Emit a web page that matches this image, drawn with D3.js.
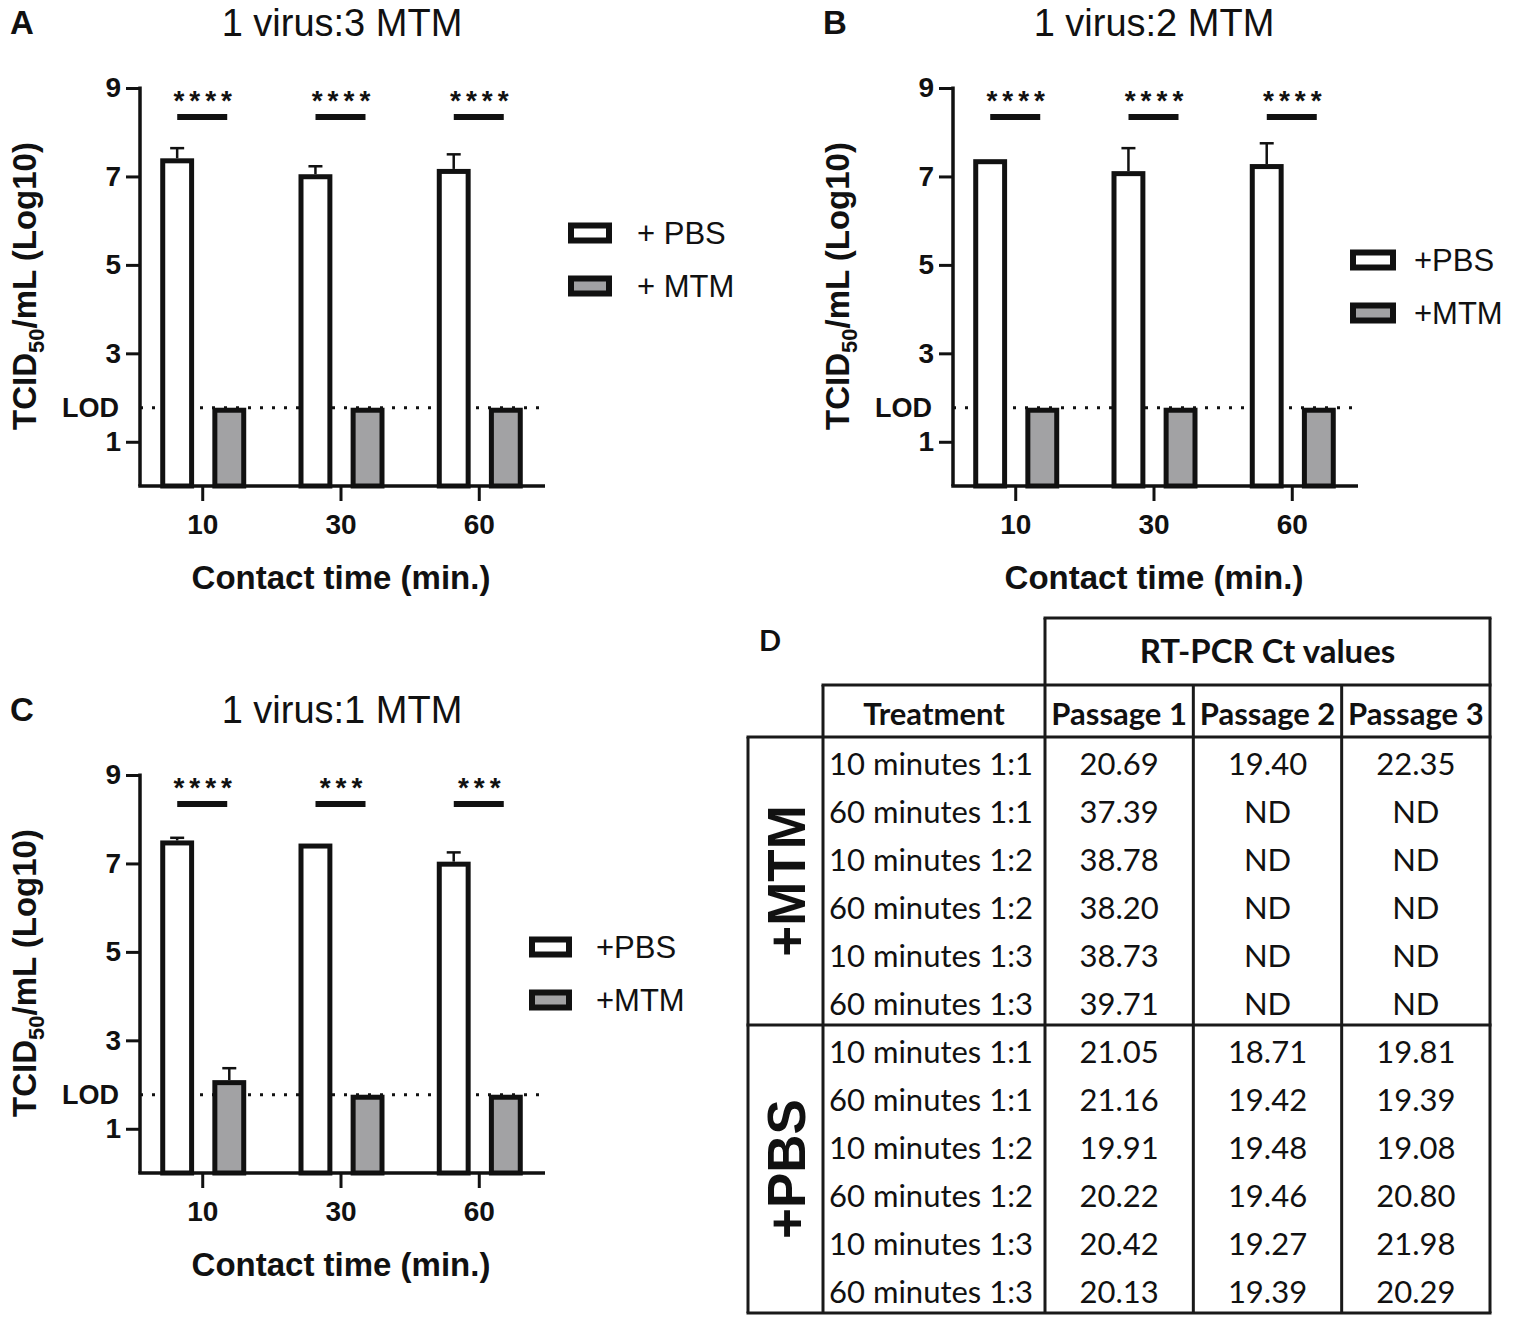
<!DOCTYPE html>
<html>
<head>
<meta charset="utf-8">
<script src="https://cdn.jsdelivr.net/npm/d3@7"></script>
<style>
  body { margin: 0; background: #fff; }
  text { font-family: "Liberation Sans", Arial, sans-serif; fill: #111; }
  .tbl text { font-family: Lato, "Open Sans", sans-serif; }
</style>
</head>
<body>
<svg id="fig" width="1517" height="1321"></svg>
<script>
// --- Data ---
const contactTimes = ["10", "30", "60"];
const groupKeys = ["PBS", "MTM"];
const yTicks = [1, 3, 5, 7, 9];
const lod = 1.77;

// panel A: 1 virus:3 MTM
const pbsA = [7.41, 7.05, 7.17];
const pbsErrA = [0.23, 0.18, 0.33];
const mtmA = [1.77, 1.77, 1.77];
const mtmErrA = [0, 0, 0];
const starsA = ["****", "****", "****"];

// panel B: 1 virus:2 MTM
const pbsB = [7.39, 7.12, 7.28];
const pbsErrB = [0, 0.52, 0.47];
const mtmB = [1.77, 1.77, 1.77];
const mtmErrB = [0, 0, 0];
const starsB = ["****", "****", "****"];

// panel C: 1 virus:1 MTM
const pbsC = [7.52, 7.45, 7.04];
const pbsErrC = [0.06, 0, 0.21];
const mtmC = [2.10, 1.77, 1.77];
const mtmErrC = [0.27, 0, 0];
const starsC = ["****", "***", "***"];

// panel D: table
const treatments = ["10 minutes 1:1", "60 minutes 1:1", "10 minutes 1:2",
                    "60 minutes 1:2", "10 minutes 1:3", "60 minutes 1:3"];
const passages = ["Passage 1", "Passage 2", "Passage 3"];
const tableGroups = ["+MTM", "+PBS"];
const mtmCt = [
  ["20.69", "19.40", "22.35"],
  ["37.39", "ND", "ND"],
  ["38.78", "ND", "ND"],
  ["38.20", "ND", "ND"],
  ["38.73", "ND", "ND"],
  ["39.71", "ND", "ND"]
];
const pbsCt = [
  ["21.05", "18.71", "19.81"],
  ["21.16", "19.42", "19.39"],
  ["19.91", "19.48", "19.08"],
  ["20.22", "19.46", "20.80"],
  ["20.42", "19.27", "21.98"],
  ["20.13", "19.39", "20.29"]
];

const svg = d3.select("#fig");

// --- Bar panels ---
function drawPanel(p) {
  const g = svg.append("g").attr("transform", `translate(${p.dx},${p.dy})`);
  const left = 140, right = 541, top = 88, bottom = 486;

  const x = d3.scalePoint().domain(contactTimes).range([left, right]).padding(0.45);
  const x1 = d3.scaleBand().domain(groupKeys).range([-42, 44]).paddingInner(0.35);
  const y = d3.scaleLinear().domain([0, 9]).range([bottom, top]);
  const sw = 5;

  const rows = contactTimes.map((t, i) => ({
    t: t,
    bars: [
      { key: "PBS", v: p.pbs[i], e: p.pbsErr[i] },
      { key: "MTM", v: p.mtm[i], e: p.mtmErr[i] }
    ],
    stars: p.stars[i]
  }));

  // LOD dotted line (behind bars)
  g.append("line")
    .attr("x1", left).attr("x2", 545)
    .attr("y1", y(lod)).attr("y2", y(lod))
    .attr("stroke", "#111")
    .attr("stroke-width", 3)
    .attr("stroke-dasharray", "3,9");

  g.append("text")
    .attr("x", 119).attr("y", y(lod))
    .attr("dy", "0.36em")
    .attr("text-anchor", "end")
    .attr("font-weight", "bold")
    .attr("font-size", 27)
    .text("LOD");

  const grp = g.selectAll(".grp")
    .data(rows)
    .enter()
    .append("g")
    .attr("transform", d => `translate(${x(d.t)},0)`);

  grp.selectAll("rect")
    .data(d => d.bars)
    .enter()
    .append("rect")
    .attr("x", d => x1(d.key) + sw / 2)
    .attr("width", x1.bandwidth() - sw)
    .attr("y", d => y(d.v) + sw / 2)
    .attr("height", d => y(0) - y(d.v) - sw / 2)
    .attr("fill", d => d.key === "PBS" ? "#fff" : "#a2a2a4")
    .attr("stroke", "#111")
    .attr("stroke-width", sw);

  // error bars (upper only)
  const eb = grp.selectAll(".err")
    .data(d => d.bars.filter(b => b.e > 0))
    .enter()
    .append("g");
  eb.append("line")
    .attr("x1", d => x1(d.key) + x1.bandwidth() / 2)
    .attr("x2", d => x1(d.key) + x1.bandwidth() / 2)
    .attr("y1", d => y(d.v))
    .attr("y2", d => y(d.v + d.e))
    .attr("stroke", "#111").attr("stroke-width", 2.5);
  eb.append("line")
    .attr("x1", d => x1(d.key) + x1.bandwidth() / 2 - 7)
    .attr("x2", d => x1(d.key) + x1.bandwidth() / 2 + 7)
    .attr("y1", d => y(d.v + d.e))
    .attr("y2", d => y(d.v + d.e))
    .attr("stroke", "#111").attr("stroke-width", 2.5);

  // significance bars
  grp.append("line")
    .attr("x1", -25).attr("x2", 25)
    .attr("y1", 117).attr("y2", 117)
    .attr("stroke", "#111").attr("stroke-width", 6);
  grp.append("text")
    .attr("x", 3).attr("y", 110)
    .attr("text-anchor", "middle")
    .attr("font-weight", "bold")
    .attr("font-size", 28)
    .attr("letter-spacing", 5)
    .text(d => d.stars);

  // axes
  const yAxis = g.append("g")
    .attr("transform", `translate(${left},0)`)
    .call(d3.axisLeft(y).tickValues(yTicks).tickSize(14).tickSizeOuter(0).tickPadding(5));
  yAxis.select(".domain").remove();
  yAxis.append("line")
    .attr("x1", 0).attr("x2", 0)
    .attr("y1", y(9) - 1.5).attr("y2", bottom)
    .attr("stroke", "#111").attr("stroke-width", 3.5);
  yAxis.selectAll(".tick line").attr("stroke", "#111").attr("stroke-width", 3);
  yAxis.selectAll(".tick text")
    .attr("font-size", 28).attr("font-weight", "bold").attr("fill", "#111");

  const xAxis = g.append("g")
    .attr("transform", `translate(0,${bottom})`)
    .call(d3.axisBottom(x).tickSize(15).tickSizeOuter(0).tickPadding(13));
  xAxis.select(".domain").remove();
  xAxis.append("line")
    .attr("x1", left - 1.75).attr("x2", 545)
    .attr("y1", 0).attr("y2", 0)
    .attr("stroke", "#111").attr("stroke-width", 3.5);
  xAxis.selectAll(".tick line").attr("stroke", "#111").attr("stroke-width", 3);
  xAxis.selectAll(".tick text")
    .attr("font-size", 28).attr("font-weight", "bold").attr("fill", "#111");

  g.append("text")
    .attr("x", 341).attr("y", 589)
    .attr("text-anchor", "middle")
    .attr("font-weight", "bold")
    .attr("font-size", 33)
    .text("Contact time (min.)");

  const yl = g.append("text")
    .attr("transform", "translate(36,286) rotate(-90)")
    .attr("text-anchor", "middle")
    .attr("font-weight", "bold")
    .attr("font-size", 33);
  yl.append("tspan").text("TCID");
  yl.append("tspan").attr("font-size", 22).attr("dy", 8).text("50");
  yl.append("tspan").attr("dy", -8).text("/mL (Log10)");

  // title + panel letter
  g.append("text")
    .attr("x", p.titleX).attr("y", 36)
    .attr("text-anchor", "middle")
    .attr("font-size", 38)
    .text(p.title);
  svg.append("text")
    .attr("x", p.letterX).attr("y", p.dy + 34)
    .attr("font-family", "Liberation Sans Narrow, Liberation Sans, sans-serif")
    .attr("font-weight", "bold")
    .attr("font-size", 33)
    .text(p.letter);

  // legend
  const lg = svg.append("g").attr("transform", `translate(${p.legX},${p.legY})`);
  lg.selectAll("rect")
    .data(groupKeys)
    .enter()
    .append("rect")
    .attr("x", 3).attr("y", (d, i) => i * 53 - 7.5)
    .attr("width", p.legW - 6).attr("height", 15)
    .attr("fill", d => d === "PBS" ? "#fff" : "#a2a2a4")
    .attr("stroke", "#111").attr("stroke-width", 6);
  lg.selectAll("text")
    .data(p.legLabels)
    .enter()
    .append("text")
    .attr("x", p.legTextX).attr("y", (d, i) => i * 53)
    .attr("dy", "0.36em")
    .attr("font-size", 31)
    .text(d => d);
}

drawPanel({ dx: 0, dy: 0, pbs: pbsA, pbsErr: pbsErrA, mtm: mtmA, mtmErr: mtmErrA, stars: starsA,
  title: "1  virus:3 MTM", titleX: 342, letter: "A", letterX: 10,
  legX: 568, legY: 233, legW: 44, legTextX: 69, legLabels: ["+ PBS", "+ MTM"] });
drawPanel({ dx: 813, dy: 0, pbs: pbsB, pbsErr: pbsErrB, mtm: mtmB, mtmErr: mtmErrB, stars: starsB,
  title: "1 virus:2 MTM", titleX: 341, letter: "B", letterX: 823,
  legX: 1350, legY: 260, legW: 46, legTextX: 64, legLabels: ["+PBS", "+MTM"] });
drawPanel({ dx: 0, dy: 687, pbs: pbsC, pbsErr: pbsErrC, mtm: mtmC, mtmErr: mtmErrC, stars: starsC,
  title: "1 virus:1 MTM", titleX: 342, letter: "C", letterX: 10,
  legX: 529, legY: 947, legW: 43, legTextX: 67, legLabels: ["+PBS", "+MTM"] });

// --- Table D ---
const tbl = svg.append("g").attr("class", "tbl");
const colLeft = 748, groupColRight = 823, treatRight = 1045, tblRight = 1490;
const topBox = 618, headTop = 685, bodyTop = 737, bodyBottom = 1313;

const rowY = d3.scaleBand().domain(d3.range(12)).range([bodyTop, bodyBottom]);
const colX = d3.scaleBand().domain(passages).range([treatRight, tblRight]);
const grpY = d3.scaleBand().domain(tableGroups).range([bodyTop, bodyBottom]);

const hLines = [
  [treatRight, tblRight, topBox],
  [groupColRight, tblRight, headTop],
  [colLeft, tblRight, bodyTop],
  [colLeft, tblRight, grpY("+PBS")],
  [colLeft, tblRight, bodyBottom]
];
const vLines = [
  [colLeft, bodyTop, bodyBottom],
  [groupColRight, headTop, bodyBottom],
  [treatRight, topBox, bodyBottom],
  [colX("Passage 2"), headTop, bodyBottom],
  [colX("Passage 3"), headTop, bodyBottom],
  [tblRight, topBox, bodyBottom]
];
tbl.selectAll(".h").data(hLines).enter().append("line")
  .attr("x1", d => d[0] - 1.5).attr("x2", d => d[1] + 1.5)
  .attr("y1", d => d[2]).attr("y2", d => d[2])
  .attr("stroke", "#1a1a1a").attr("stroke-width", 3);
tbl.selectAll(".v").data(vLines).enter().append("line")
  .attr("x1", d => d[0]).attr("x2", d => d[0])
  .attr("y1", d => d[1]).attr("y2", d => d[2])
  .attr("stroke", "#1a1a1a").attr("stroke-width", 3);

tbl.append("text")
  .attr("x", (treatRight + tblRight) / 2).attr("y", (topBox + headTop) / 2)
  .attr("dy", "0.36em")
  .attr("text-anchor", "middle")
  .attr("font-weight", "bold")
  .attr("font-size", 33)
  .text("RT-PCR Ct values");

tbl.append("text")
  .attr("x", (groupColRight + treatRight) / 2).attr("y", (headTop + bodyTop) / 2 + 3)
  .attr("dy", "0.36em")
  .attr("text-anchor", "middle")
  .attr("font-weight", "bold")
  .attr("font-size", 31)
  .text("Treatment");

tbl.selectAll(".ph").data(passages).enter().append("text")
  .attr("x", d => colX(d) + colX.bandwidth() / 2)
  .attr("y", (headTop + bodyTop) / 2 + 3)
  .attr("dy", "0.36em")
  .attr("text-anchor", "middle")
  .attr("font-weight", "bold")
  .attr("font-size", 31)
  .text(d => d);

tbl.selectAll(".gl").data(tableGroups).enter().append("text")
  .attr("transform", d => `translate(${(colLeft + groupColRight) / 2},${grpY(d) + grpY.bandwidth() / 2}) rotate(-90)`)
  .attr("dy", "0.36em")
  .attr("text-anchor", "middle")
  .style("font-family", "Liberation Sans, Arial, sans-serif")
  .attr("font-weight", "bold")
  .attr("font-size", 53)
  .text(d => d);

const allRows = mtmCt.concat(pbsCt).map((vals, i) => ({ i: i, treat: treatments[i % 6], vals: vals }));
const rg = tbl.selectAll(".row").data(allRows).enter().append("g")
  .attr("transform", d => `translate(0,${rowY(d.i) + rowY.bandwidth() / 2 + 3})`);
rg.append("text")
  .attr("x", groupColRight + 6)
  .attr("dy", "0.36em")
  .attr("font-size", 31)
  .text(d => d.treat);
rg.selectAll(".val").data(d => d.vals).enter().append("text")
  .attr("x", (d, j) => colX(passages[j]) + colX.bandwidth() / 2)
  .attr("dy", "0.36em")
  .attr("text-anchor", "middle")
  .attr("font-size", 31)
  .text(d => d);

svg.append("text")
  .attr("x", 759).attr("y", 651)
  .style("font-family", "Lato, sans-serif")
  .attr("font-weight", "bold")
  .attr("font-size", 29)
  .text("D");
</script>
</body>
</html>
